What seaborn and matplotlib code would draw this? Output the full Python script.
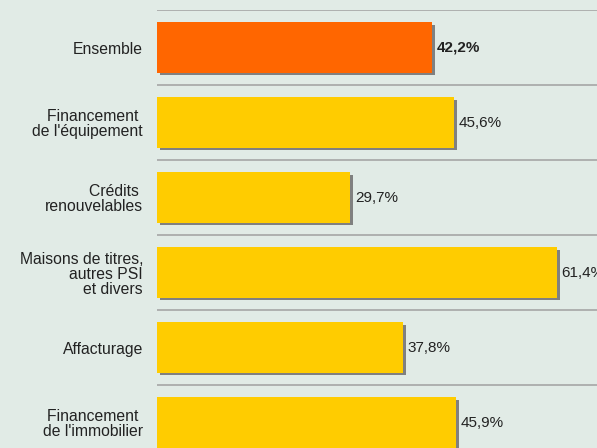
import matplotlib
matplotlib.use("Agg")
import matplotlib.pyplot as plt
import matplotlib.patheffects as pe
import seaborn as sns
import pandas as pd
import numpy as np

# ===================== Data =====================
categories = [
    "Ensemble",
    "Financement \nde l'équipement",
    "Crédits \nrenouvelables",
    "Maisons de titres,\nautres PSI\net divers",
    "Affacturage",
    "Financement \nde l'immobilier",
]
values = [42.2, 45.6, 29.7, 61.4, 37.8, 45.9]
colors = ["#ff6600", "#ffcc00", "#ffcc00", "#ffcc00", "#ffcc00", "#ffcc00"]

df = pd.DataFrame({"cat": categories, "val": values})

# ===================== Figure =====================
bg = "#e1ebe6"
sns.set_theme(style="white")
plt.rcParams["font.family"] = ["Liberation Sans", "DejaVu Sans"]

fig = plt.figure(figsize=(5.97, 4.48), dpi=100, facecolor=bg)
ax = fig.add_axes([157 / 597, 0, 1 - 157 / 597, 1 - 10 / 448])
ax.set_facecolor(bg)

sns.barplot(data=df, x="val", y="cat", hue="cat", palette=colors,
            legend=False, width=0.667, saturation=1, ax=ax)

shadow = [pe.SimplePatchShadow(offset=(2.2, -1.5), shadow_rgbFace="#808080", alpha=1), pe.Normal()]
for p in ax.patches:
    p.set_edgecolor("none")
    p.set_path_effects(shadow)

# value labels
for i, (c, v) in enumerate(zip(ax.containers, values)):
    lab = f"{v:.1f}".replace(".", ",") + "%"
    ax.bar_label(c, labels=[lab], padding=3.5, fontsize=11, color="#222222",
                 fontweight="bold" if i == 0 else "normal")

# band separators
ax.set_yticks(np.arange(len(categories)) + 0.5, minor=True)
ax.set_yticks(np.arange(len(categories)))
ax.set_yticklabels(categories, fontsize=11.3, color="#222222", linespacing=1.0)
for t in ax.get_yticklabels():
    t.set_multialignment("right")
ax.grid(False)
ax.grid(True, which="minor", axis="y", color="#a6a6a6", linewidth=1.2)
ax.axhline(-0.5, color="#a6a6a6", linewidth=1.2)
ax.tick_params(axis="y", which="both", length=0, pad=10)
ax.set_ylim(5.34, -0.5)
ax.set_xlim(0, 67.6)
ax.set_xlabel("")
ax.set_ylabel("")
ax.set_xticks([])
for s in ax.spines.values():
    s.set_visible(False)

fig.savefig("out.png", dpi=100, facecolor=bg)
